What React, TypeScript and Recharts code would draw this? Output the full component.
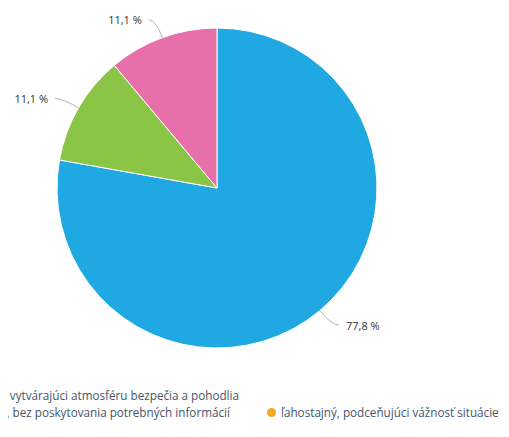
import { PieChart, Pie, Cell } from "recharts";

const names = [
  "empatický, vytvárajúci atmosféru bezpečia a pohodlia",
  "vecný, bez poskytovania potrebných informácií",
  "neistý, nervózny, zmätený",
  "ľahostajný, podceňujúci vážnosť situácie",
];
const values = [77.8, 11.1, 11.1, 0];
const colors = ["#1fa8e1", "#8bc546", "#e76faa", "#f7a823"];

const data = names.map((name, i) => ({ name, value: values[i] }));

// legend placement (row, right edge or left edge of the item)
const legendItems = [
  { idx: 0, top: 387, right: 239 },
  { idx: 1, top: 404, right: 230 },
  { idx: 3, top: 404, left: 267 },
];

const RAD = Math.PI / 180;

const fmt = (v: number) => v.toFixed(1).replace(".", ",") + " %";

const renderLabel = (p: any) => {
  const { cx, cy, midAngle, outerRadius, value } = p;
  if (!value) return <g />;
  const cos = Math.cos(-midAngle * RAD);
  const sin = Math.sin(-midAngle * RAD);
  const sx = cx + outerRadius * cos;
  const sy = cy + outerRadius * sin;
  const mx = cx + (outerRadius + 19) * cos;
  const my = cy + (outerRadius + 19) * sin;
  const dir = cos >= 0 ? 1 : -1;
  const ex = mx + dir * 7;
  return (
    <g>
      <path
        d={`M${sx},${sy} Q${mx},${my} ${ex},${my}`}
        stroke="#b5b5b5"
        strokeWidth={1}
        fill="none"
      />
      <text
        x={ex + dir * 7}
        y={my}
        textAnchor={dir > 0 ? "start" : "end"}
        dominantBaseline="central"
        fill="#333"
        fontSize={11}
        fontFamily="'Open Sans', sans-serif"
      >
        {fmt(value)}
      </text>
    </g>
  );
};

export default function App() {
  return (
    <div
      style={{
        position: "relative",
        width: 509,
        height: 437,
        margin: -8,
        overflow: "hidden",
        background: "#fff",
      }}
    >
      <PieChart width={509} height={437} margin={{ top: 0, right: 0, bottom: 0, left: 0 }}>
        <Pie
          data={data}
          dataKey="value"
          nameKey="name"
          cx={217}
          cy={188}
          outerRadius={160}
          startAngle={90}
          endAngle={-270}
          stroke="#fff"
          strokeWidth={1}
          label={renderLabel}
          labelLine={false}
          isAnimationActive={false}
        >
          {data.map((d, i) => (
            <Cell key={d.name} fill={colors[i]} />
          ))}
        </Pie>
      </PieChart>
      {legendItems.map((it) => (
        <div
          key={it.idx}
          style={{
            position: "absolute",
            top: it.top,
            left: it.left,
            right: it.right !== undefined ? 509 - it.right : undefined,
            whiteSpace: "nowrap",
            display: "flex",
            alignItems: "center",
            fontFamily: "'Open Sans', sans-serif",
            fontSize: 11.7,
            color: "#46566a",
            lineHeight: "16px",
          }}
        >
          <span
            style={{
              display: "inline-block",
              width: 9,
              height: 9,
              borderRadius: "50%",
              background: colors[it.idx],
              marginRight: 5,
            }}
          />
          {names[it.idx]}
        </div>
      ))}
    </div>
  );
}
